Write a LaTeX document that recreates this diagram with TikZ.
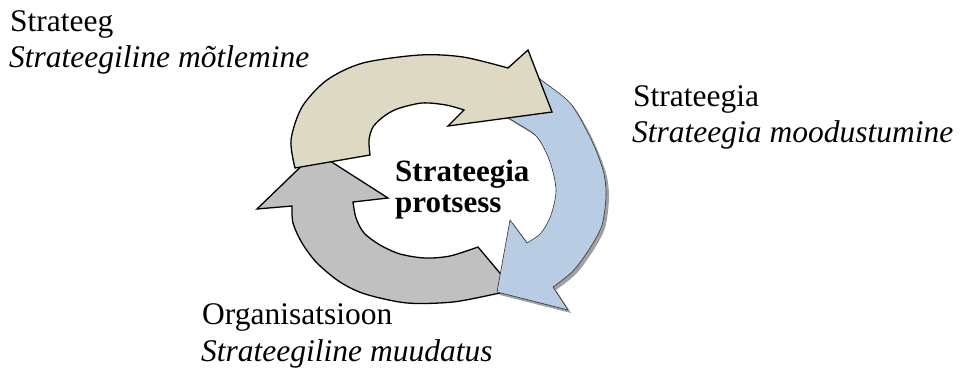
\documentclass[tikz,border=0pt]{standalone}
\usepackage{fontspec}
\setmainfont{Liberation Serif}
\definecolor{beigefill}{HTML}{DDD9C3}
\definecolor{grayfill}{HTML}{C0C0C0}
\definecolor{bluefill}{HTML}{B8CCE4}
\definecolor{shadowc}{HTML}{A0A0A0}
\tikzset{
  lbl/.style={anchor=base west, inner sep=0pt, font=\fontsize{31.5}{36}\selectfont},
  lbli/.style={anchor=base west, inner sep=0pt, font=\itshape\fontsize{31.5}{36}\selectfont},
  lblb/.style={anchor=base west, inner sep=0pt, font=\bfseries\fontsize{31}{31}\selectfont},
  thickarrow/.style={draw=black, line width=1.3pt, line join=miter},
  thinarrow/.style={draw=black!80, line width=0.6pt, line join=miter},
}
\begin{document}
\begin{tikzpicture}[x=1pt, y=-1pt]
\useasboundingbox (0,0) rectangle (962,371);
% gray arrow (Organisatsioon -> Strateeg)
\path[thickarrow, fill=grayfill]
  (478,247) -- plot[smooth] coordinates {(478,247) (450,256) (425,258) (400,254) (380,245) (364,233) (356,218) (353,202)}
  -- (388,198) -- (316,152) -- (257,209) -- (292,206)
  -- plot[smooth] coordinates {(292,206) (293,223) (302,243) (317,263) (340,282) (365,294) (407,303) (453,302) (495,294)}
  -- (515,291) -- cycle;
% blue arrow shadow
\fill[shadowc, shift={(3,3)}]
  (525,66) -- (498,112) -- plot[smooth] coordinates {(498,112) (515,122) (537,137) (550,162) (556,190) (551,215) (541,233) (527,243)}
  -- (510,220) -- (497,292) -- (568,310) -- (553,287)
  -- plot[smooth] coordinates {(553,287) (573,271) (590,248) (602,225) (606,195) (603,170) (590,137) (570,103) (540,79) (525,66)}
  -- cycle;
% blue arrow (Strateegia)
\path[thinarrow, fill=bluefill]
  (525,66) -- (498,112) -- plot[smooth] coordinates {(498,112) (515,122) (537,137) (550,162) (556,190) (551,215) (541,233) (527,243)}
  -- (510,220) -- (497,292) -- (568,310) -- (553,287)
  -- plot[smooth] coordinates {(553,287) (573,271) (590,248) (602,225) (606,195) (603,170) (590,137) (570,103) (540,79) (525,66)}
  -- cycle;
% beige arrow (Strateeg)
\path[thickarrow, fill=beigefill]
  (295,168) -- (370,155)
  -- plot[smooth] coordinates {(370,155) (369,140) (373,127) (383,117) (397,109) (422,103) (446,105) (464,110)}
  -- (448,126) -- (552,112) -- (528,50) -- (508,68)
  -- plot[smooth] coordinates {(508,68) (463,57) (420,55) (363,63) (327,80) (302,107) (291,140) (295,168)}
  -- cycle;
% labels
\node[lbl]  (t1a) at (10,32)  {Strateeg};
\node[lbli] (t1b) at (9,68)   {Strateegiline mõtlemine};
\node[lbl]  (t2a) at (633,107) {Strateegia};
\node[lbli] (t2b) at (632,143) {Strateegia moodustumine};
\node[lbl]  (t3a) at (202,325) {Organisatsioon};
\node[lbli] (t3b) at (201,362) {Strateegiline muudatus};
\node[lblb] (c1)  at (395,182) {Strateegia};
\node[lblb] (c2)  at (395,213) {protsess};
\end{tikzpicture}
\end{document}
